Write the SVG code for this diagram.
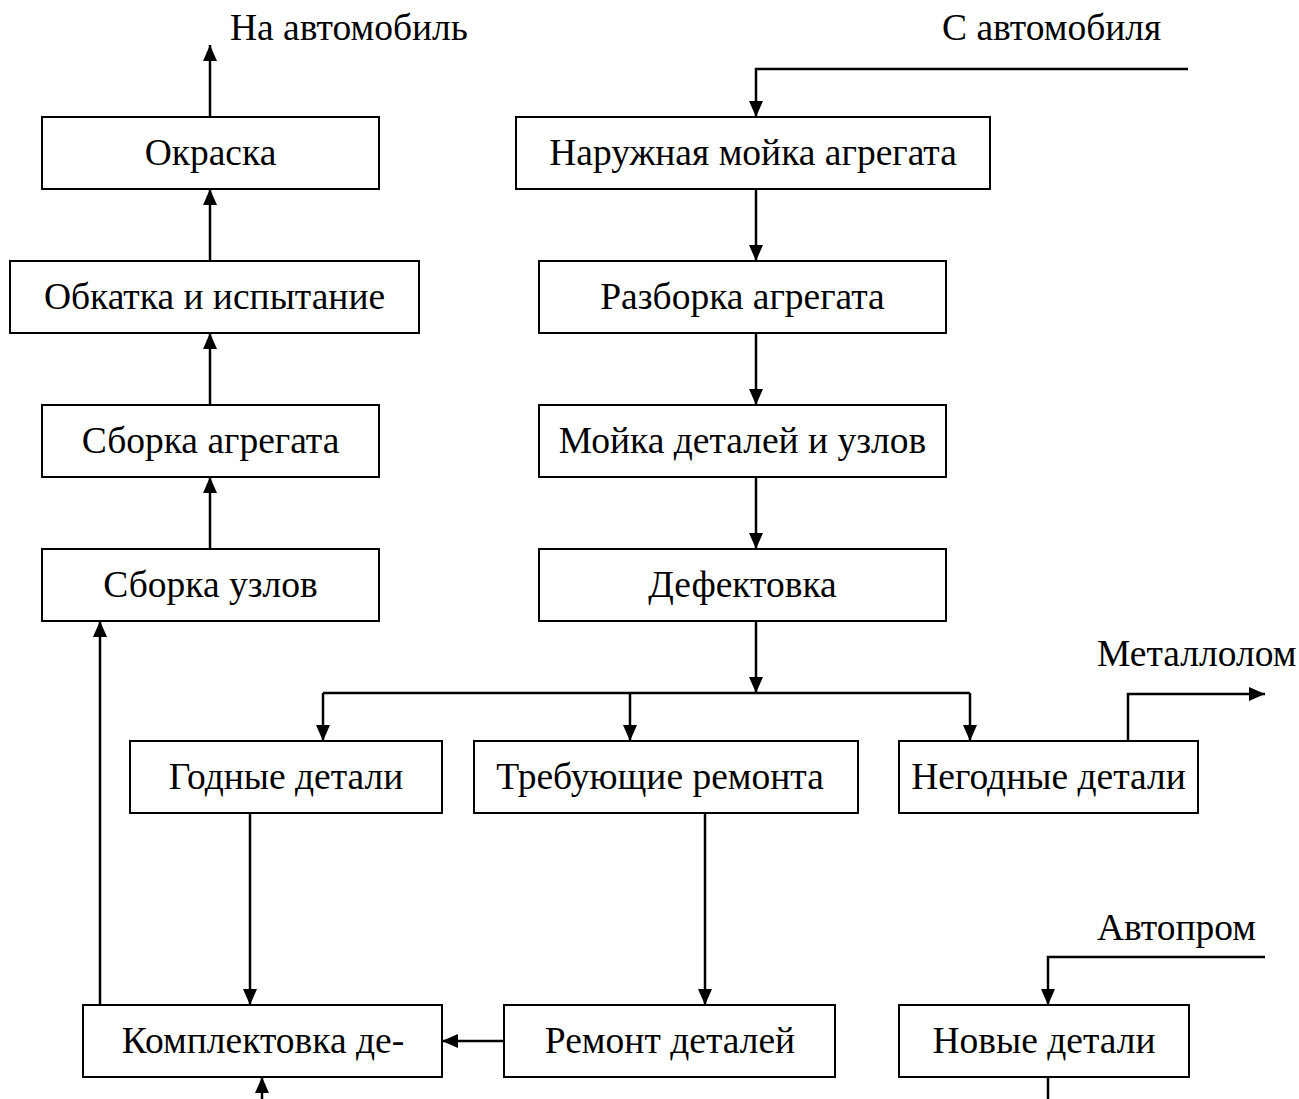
<svg xmlns="http://www.w3.org/2000/svg" width="1299" height="1099" viewBox="0 0 1299 1099">
<style>
.box{fill:#fff;stroke:#000;stroke-width:2}
.t{font-family:"Liberation Serif","Times New Roman",serif;font-size:37.5px;fill:#000}
.c{text-anchor:middle}
.ln{fill:none;stroke:#000;stroke-width:2.5}
.a{marker-end:url(#arr)}
</style>
<defs>
<marker id="arr" viewBox="0 0 16 14" refX="16" refY="7" markerWidth="16" markerHeight="14" markerUnits="userSpaceOnUse" orient="auto">
<path d="M0,0 L16,7 L0,14 z" fill="#000"/>
</marker>
</defs>
<rect width="1299" height="1099" fill="#fff"/>
<g id="connectors">
<path class="ln a" d="M210,117 V45"/>
<path class="ln a" d="M210,261 V189"/>
<path class="ln a" d="M210,405 V333"/>
<path class="ln a" d="M210,549 V477"/>
<path class="ln a" d="M100,1005 V621"/>
<path class="ln a" d="M1188,69 H756 V117"/>
<path class="ln a" d="M756,189 V261"/>
<path class="ln a" d="M756,333 V405"/>
<path class="ln a" d="M756,477 V549"/>
<path class="ln a" d="M756,621 V693"/>
<path class="ln" d="M323,693 H970"/>
<path class="ln a" d="M323,693 V741"/>
<path class="ln a" d="M630,693 V741"/>
<path class="ln a" d="M970,693 V741"/>
<path class="ln a" d="M1128,741 V694 H1265"/>
<path class="ln a" d="M250,813 V1005"/>
<path class="ln a" d="M705,813 V1005"/>
<path class="ln a" d="M504,1041 H442"/>
<path class="ln a" d="M1265,957 H1048 V1005"/>
<path class="ln" d="M1048,1077 V1099"/>
<path class="ln a" d="M262,1099 V1077"/>
</g>
<g id="labels">
<text class="t" x="230" y="40">На автомобиль</text>
<text class="t" x="942" y="40">С автомобиля</text>
<text class="t" x="1097" y="666">Металлолом</text>
<text class="t" x="1097" y="940">Автопром</text>
</g>
<g id="n-okraska"><rect class="box" x="42" y="117" width="337" height="72"/><text class="t c" x="210.5" y="165">Окраска</text></g>
<g id="n-obkatka"><rect class="box" x="10" y="261" width="409" height="72"/><text class="t c" x="214.5" y="309">Обкатка и испытание</text></g>
<g id="n-sborka-agr"><rect class="box" x="42" y="405" width="337" height="72"/><text class="t c" x="210.5" y="453">Сборка агрегата</text></g>
<g id="n-sborka-uzl"><rect class="box" x="42" y="549" width="337" height="72"/><text class="t c" x="210.5" y="597">Сборка узлов</text></g>
<g id="n-naruzh"><rect class="box" x="516" y="117" width="474" height="72"/><text class="t c" x="753" y="165">Наружная мойка агрегата</text></g>
<g id="n-razborka"><rect class="box" x="539" y="261" width="407" height="72"/><text class="t c" x="742.5" y="309">Разборка агрегата</text></g>
<g id="n-moika"><rect class="box" x="539" y="405" width="407" height="72"/><text class="t c" x="742.5" y="453">Мойка деталей и узлов</text></g>
<g id="n-defekt"><rect class="box" x="539" y="549" width="407" height="72"/><text class="t c" x="742.5" y="597">Дефектовка</text></g>
<g id="n-godnye"><rect class="box" x="130" y="741" width="312" height="72"/><text class="t c" x="286" y="789">Годные детали</text></g>
<g id="n-treb"><rect class="box" x="474" y="741" width="384" height="72"/><text class="t c" x="660" y="789">Требующие ремонта</text></g>
<g id="n-negodnye"><rect class="box" x="899" y="741" width="299" height="72"/><text class="t c" x="1048.5" y="789">Негодные детали</text></g>
<g id="n-komplekt"><rect class="box" x="83" y="1005" width="359" height="72"/><text class="t c" x="263" y="1053">Комплектовка де-</text></g>
<g id="n-remont"><rect class="box" x="504" y="1005" width="331" height="72"/><text class="t c" x="670" y="1053">Ремонт деталей</text></g>
<g id="n-novye"><rect class="box" x="899" y="1005" width="290" height="72"/><text class="t c" x="1044" y="1053">Новые детали</text></g>
</svg>
